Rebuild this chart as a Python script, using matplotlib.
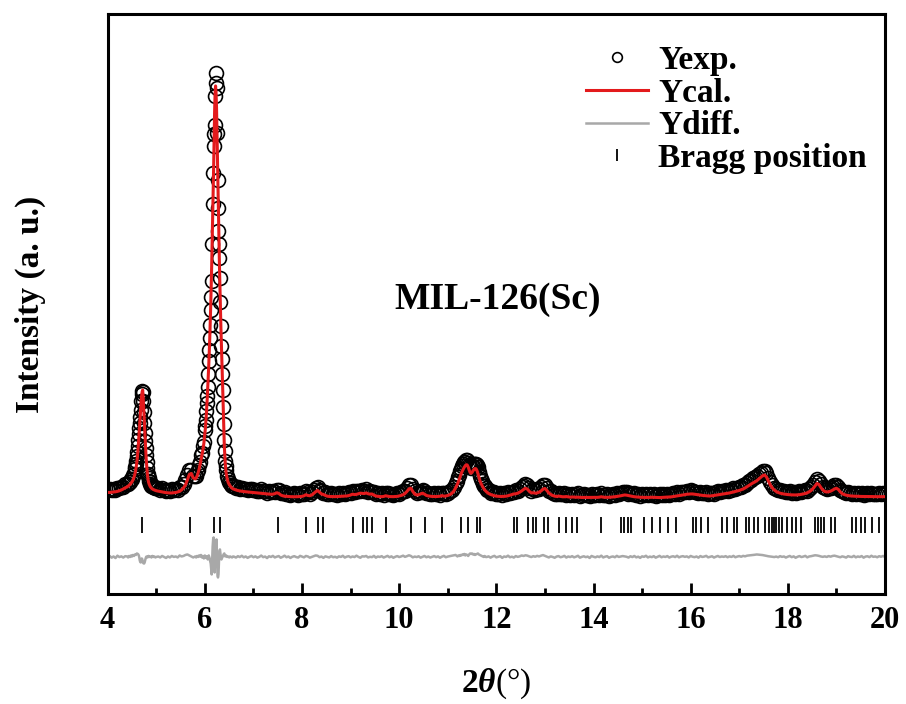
import numpy as np
import matplotlib
matplotlib.use('Agg')
import matplotlib.pyplot as plt
from matplotlib.ticker import MultipleLocator

plt.rcParams['font.family'] = 'Liberation Serif'
plt.rcParams['font.weight'] = 'bold'
plt.rcParams['mathtext.fontset'] = 'custom'
plt.rcParams['mathtext.rm'] = 'Liberation Serif'
plt.rcParams['mathtext.bf'] = 'Liberation Serif:bold'
plt.rcParams['mathtext.it'] = 'Liberation Serif:italic:bold'

# scan segments: (start 2theta, step), finer steps over the strong reflections
seg_start = [4.00, 4.40, 4.56, 4.86, 5.00, 5.80, 6.00, 6.46, 6.60, 11.20, 11.80]
seg_step = [0.04, 0.02, 0.01, 0.02, 0.04, 0.02, 0.01, 0.02, 0.04, 0.02, 0.04]

# calculated profile (counts)
calc_a = [1015, 1015, 1018, 1020, 1022, 1026, 1032, 1040, 1050, 1062]
calc_b1 = [1070, 1078, 1086, 1095, 1108, 1122, 1140, 1165]
calc_b2 = [1200, 1222, 1250, 1282, 1320, 1366, 1420, 1485, 1560, 1640,
           1720, 1795, 1870, 1935, 1990, 2025, 2040, 1960, 1860, 1750,
           1640, 1540, 1450, 1365, 1290, 1230, 1180, 1145, 1120, 1102]
calc_b3 = [1090, 1070, 1058, 1050, 1044, 1040, 1036]
calc_c = [1032, 1028, 1024, 1020, 1016, 1013, 1011, 1010, 1010, 1012,
          1015, 1020, 1028, 1040, 1060, 1090, 1140, 1195, 1205, 1160]
calc_d1 = [1150, 1160, 1180, 1210, 1245, 1290, 1340, 1390, 1440, 1510]
calc_d2 = [1600, 1655, 1720, 1795, 1880, 1970, 2070, 2175, 2290, 2415,
           2550, 2705, 2880, 3070, 3280, 3520, 3770, 4010, 4260, 4560,
           4820, 5000, 5080, 5010, 4860, 4590, 4300, 4040, 3780, 3520,
           3280, 3060, 2860, 2660, 2480, 2330, 2180, 2000, 1820, 1640,
           1480, 1380, 1300, 1245, 1200]
calc_d3 = [1150, 1115, 1095, 1080, 1068, 1058, 1050]
calc_e = [1048, 1040, 1034, 1030, 1027, 1024, 1022, 1020, 1018, 1016, 1014, 1012, 1010,
          1008, 1006, 1004, 1002, 1000, 998, 997, 998, 1003, 1012, 1006, 990,
          982, 978, 976, 974, 973, 972, 972, 972, 973, 974, 976, 982, 992,
          985, 982, 990, 1005, 1022, 1035, 1018, 1000, 995, 985, 978, 975,
          974, 973, 973, 974, 975, 976, 977, 978, 980, 984, 990, 998, 994,
          996, 1002, 1008, 1006, 1004, 1010, 1002, 998, 1000, 988, 980, 976,
          974, 973, 975, 982, 978, 974, 973, 973, 974, 976, 980, 985, 992,
          1005, 1025, 1050, 1058, 1025, 998, 990, 992, 1000, 1008, 998, 985,
          980, 977, 975, 974, 974, 975, 977, 984, 978, 980, 985, 992, 1005, 1025, 1060]
calc_f = [1100, 1125, 1150, 1180, 1207, 1230, 1250, 1268, 1282, 1292,
          1290, 1270, 1240, 1215, 1207, 1215, 1232, 1246, 1254, 1252,
          1235, 1205, 1170, 1135, 1110, 1090, 1070, 1055, 1040, 1030]
calc_g = [1020, 1005, 995, 988, 982, 978, 976, 975, 975, 976, 978, 982, 988,
          995, 1000, 1002, 1008, 1018, 1030, 1045, 1057, 1048, 1025, 1010, 1012,
          1008, 1010, 1018, 1030, 1048, 1055, 1035, 1010, 995, 985, 978, 975, 978,
          976, 972, 972, 974, 971, 968, 970, 968, 967, 968, 966, 965,
          965, 965, 964, 964, 964, 965, 965, 966, 968, 972, 968, 966, 966,
          967, 968, 970, 972, 975, 978, 982, 986, 990, 988, 984, 980,
          976, 972, 970, 968, 967, 966, 966, 965, 965, 966, 967, 966, 965,
          964, 964, 965, 965, 966, 967, 969, 971, 974, 977, 980, 983,
          986, 990, 994, 997, 999, 1000, 1000, 997, 993, 990, 988, 986, 984,
          982, 980, 980, 982, 985, 988, 992, 995, 998, 1000, 1002, 1005,
          1010, 1015, 1020, 1025, 1030, 1035, 1042, 1050, 1060, 1072, 1085, 1098, 1110,
          1120, 1132, 1148, 1165, 1182, 1190, 1170, 1130, 1090, 1060, 1040, 1025,
          1015, 1008, 1003, 999, 996, 994, 992, 991, 990, 990, 991, 993, 996,
          1000, 1005, 1012, 1022, 1035, 1055, 1080, 1105, 1095, 1065, 1040, 1025,
          1020, 1022, 1028, 1038, 1050, 1057, 1045, 1020, 1003, 994, 988, 984, 981,
          979, 978, 977, 976, 976, 975, 975, 975, 974, 974, 974, 973,
          973, 973, 973, 973, 973, 973]

# observed minus calculated (counts)
resid_a = [25, 35, 18, 30, 14, 38, 24, 31, 19, 33]
resid_b1 = [30, 20, 35, 25, 40, 30, 45, 35]
resid_b2 = [50, 48, 45, 52, 60, 58, 55, 50, 40, 20, -10, -25, -30, -10, 10,
            5, -20, -35, -40, -40, -30, -10, 10, 25, 30, 25, 20, 30, 35, 28]
resid_b3 = [25, 30, 20, 35, 25, 30, 20]
resid_c = [25, 30, 20, 35, 25, 15, 30, 20, 35, 25, 30, 20, 40, 30, 35, 45, 50, 40, 30, 20]
resid_d1 = [30, 20, 35, 25, 40, 30, 45, 20, 35, 10]
resid_d2 = [40, 25, 15, 30, 30, 10, 0, 20, 40, 25,
            10, -20, -40, -100, -150, -20, 130, 200, 220, 40,
            -130, -20, 130, 100, 200, 20, -160, -180, -150, -20,
            80, 100, 60, 20, 0, 15, 20, 35, 45, 55,
            60, 45, 30, 35, 40]
resid_d3 = [25, 30, 20, 30, 25, 20, 30]
resid_e = [28, 19, 33, 24, 37, 21, 30, 16, 27, 35, 22, 31, 18, 26, 39, 23, 29, 14, 32, 25, 36, 20, 28, 34, 17,
           26, 38, 22, 30, 15, 27, 33, 24, 19, 36, 28, 21, 35, 30, 18, 25, 32, 40, 37, 23, 29, 16, 31, 26, 20,
           34, 22, 27, 18, 31, 25, 37, 19, 28, 33, 21, 30, 24, 38, 26, 17, 32, 29, 35, 20, 27, 23, 36, 18, 30,
           25, 33, 19, 28, 36, 22, 31, 17, 27, 34, 24, 30, 38, 26, 33, 42, 35, 21, 29, 24, 32, 18, 27, 35, 22,
           30, 19, 26, 34, 23, 31, 17, 28, 36, 22, 29, 33, 38, 42, 45]
resid_f = [30, 40, 35, 45, 40, 50, 45, 55, 40, 50, 45, 35, 50, 60, 55,
           60, 50, 55, 45, 50, 55, 60, 50, 45, 40, 35, 30, 25, 35, 25]
resid_g = [24, 31, 18, 29, 36, 21, 27, 33, 16, 30, 25, 38, 22, 28, 19, 34, 26, 31, 40, 35, 42, 38, 30, 24, 33,
           27, 36, 30, 38, 44, 36, 28, 20, 31, 25, 17, 29, 34, 22, 27, 36, 19, 30, 24, 33, 21, 28, 37, 18, 26,
           32, 23, 29, 15, 35, 27, 21, 31, 24, 38, 20, 28, 33, 17, 26, 30, 22, 36, 25, 29, 34, 31, 27, 19, 32,
           24, 35, 21, 28, 16, 31, 26, 37, 20, 29, 23, 33, 18, 27, 36, 22, 30, 25, 34, 19, 28, 32, 24, 37, 21,
           29, 33, 26, 31, 20, 35, 27, 23, 30, 18, 34, 25, 29, 36, 21, 27, 32, 19, 28, 35, 24, 30, 26, 33, 22,
           31, 25, 36, 22, 29, 34, 27, 36, 31, 38, 40, 42, 45, 47, 50, 48, 46, 44, 40, 36, 32, 30, 27, 24, 29,
           22, 33, 26, 30, 19, 28, 35, 23, 31, 17, 27, 34, 24, 29, 36, 21, 30, 33, 38, 42, 40, 36, 30, 26, 31,
           25, 34, 28, 35, 38, 33, 29, 22, 31, 26, 19, 33, 27, 24, 36, 21, 30, 25, 34, 18, 29, 32, 23, 37, 26,
           30, 22, 33, 27, 35, 24]

bragg_pos = [4.71, 5.70, 6.19, 6.31, 7.50, 8.08, 8.33, 8.43, 9.04, 9.26, 9.34, 9.43, 9.73,
             10.25, 10.54, 10.89, 11.28, 11.41, 11.61, 11.67, 12.36, 12.42, 12.65, 12.76,
             12.82, 12.99, 13.06, 13.28, 13.43, 13.56, 13.67, 14.15, 14.57, 14.62, 14.70,
             14.77, 15.04, 15.21, 15.37, 15.54, 15.70, 16.04, 16.12, 16.21, 16.35, 16.65,
             16.74, 16.89, 16.96, 17.13, 17.20, 17.31, 17.39, 17.53, 17.61, 17.67, 17.72,
             17.76, 17.82, 17.89, 17.99, 18.09, 18.16, 18.28, 18.56, 18.63, 18.68, 18.74,
             18.88, 18.98, 19.33, 19.41, 19.50, 19.59, 19.74, 19.87]

bragg_level = 690
diff_offset = 345

calc_segs = [calc_a, calc_b1, calc_b2, calc_b3, calc_c, calc_d1, calc_d2, calc_d3,
             calc_e, calc_f, calc_g]
resid_segs = [resid_a, resid_b1, resid_b2, resid_b3, resid_c, resid_d1, resid_d2, resid_d3,
              resid_e, resid_f, resid_g]

two_theta = np.concatenate([np.round(s + d * np.arange(len(c)), 3)
                            for s, d, c in zip(seg_start, seg_step, calc_segs)])
y_calc = np.concatenate([np.array(c, float) for c in calc_segs])
y_resid = np.concatenate([np.array(r, float) for r in resid_segs])
y_obs = y_calc + y_resid

fig = plt.figure(figsize=(9.06, 7.04), dpi=100)
ax = fig.add_axes([0.1189, 0.1563, 0.8579, 0.8239])

ax.plot(two_theta, y_obs, 'o', ms=10, mfc='none', mec='black', mew=1.2,
        label='Yexp.', zorder=2)
ax.plot(two_theta, y_calc, '-', color='#e31a1c', lw=2.2, label='Ycal.', zorder=3)
ax.plot(two_theta, y_resid + diff_offset, '-', color='#a8a8a8', lw=1.8,
        label='Ydiff.', zorder=2)
ax.plot(bragg_pos, np.full(len(bragg_pos), bragg_level), '|', ms=11.5, mew=1.3,
        color='black', label='Bragg position', zorder=2)

ax.set_xlim(4, 20)
ax.set_ylim(0, 5800)
ax.xaxis.set_major_locator(MultipleLocator(2))
ax.xaxis.set_minor_locator(MultipleLocator(1))
ax.set_yticks([])
ax.tick_params(axis='x', which='major', direction='in', length=7.7, width=2,
               labelsize=22, pad=9, top=False)
ax.tick_params(axis='x', which='minor', direction='in', length=4.3, width=2, top=False)
for sp in ax.spines.values():
    sp.set_linewidth(2.2)

ax.set_xlabel(r'$\mathbf{2}\mathit{\theta}$(°)', fontsize=24, fontweight='normal')
ax.xaxis.set_label_coords(0.5, -0.125)
ax.set_ylabel('Intensity (a. u.)', fontsize=24, fontweight='bold')
ax.yaxis.set_label_coords(-0.079, 0.5)

ax.text(12.02, 2940, 'MIL-126(Sc)', fontsize=27, fontweight='bold',
        ha='center', va='center')

ax.legend(loc='upper right', bbox_to_anchor=(1.0, 0.978), frameon=False,
          fontsize=24, handlelength=1.85, handletextpad=0.3, labelspacing=0.05,
          markerscale=0.7, borderaxespad=0.15)

fig.savefig('out.png', dpi=100)
